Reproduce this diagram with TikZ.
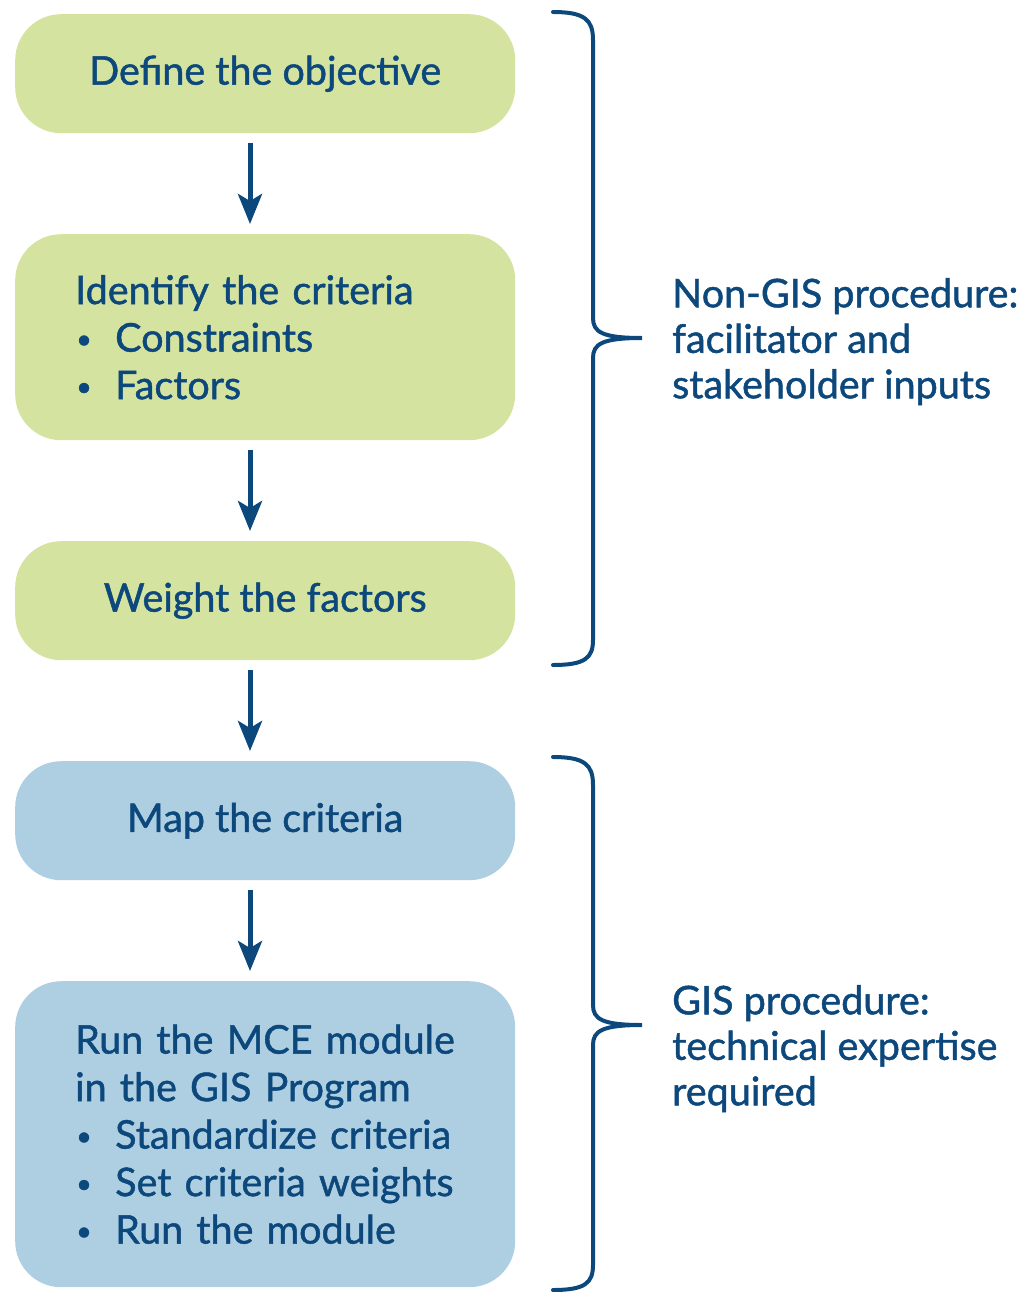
\documentclass[tikz,border=0pt]{standalone}
\usepackage{fontspec}
\setmainfont{Lato}[FakeBold=1.2]
\usetikzlibrary{arrows.meta}
\definecolor{ink}{RGB}{12,72,124}
\definecolor{leaf}{RGB}{212,227,160}
\definecolor{sky}{RGB}{174,207,226}
% small list bullet followed by a fixed indent
\newcommand{\itemdot}{\makebox[40pt][l]{\hspace*{1pt}\raisebox{3pt}{\fontsize{27}{27}\selectfont\textbullet}}}
\begin{document}
\begin{tikzpicture}[x=1pt,y=-1pt,
  every node/.style={font=\fontsize{39.5}{47.5}\selectfont, text=ink},
  stepbox/.style={rounded corners=46pt, minimum width=500pt, inner xsep=0pt, inner ysep=0pt, anchor=north west},
  listbox/.style={stepbox, align=left, text width=400pt, inner xsep=50pt},
  flow/.style={draw=ink, line width=5pt, -{Stealth[length=30pt,width=24pt,inset=7pt]}},
  brace/.style={draw=ink, line width=4pt, line cap=round},
  note/.style={anchor=north west, align=left, inner sep=0pt, font=\fontsize{39.5}{45.5}\selectfont}]
\useasboundingbox (0,0) rectangle (1032,1292);

% process steps
\node[stepbox, fill=leaf, minimum height=119pt] (obj) at (15,14) {Define the objective};
\node[listbox, fill=leaf, minimum height=206pt] (crit) at (15,234)
  {\hspace*{10pt}Identify the criteria\\
   \hspace*{10pt}\itemdot Constraints\\
   \hspace*{10pt}\itemdot Factors};
\node[stepbox, fill=leaf, minimum height=119pt] (wgt) at (15,541) {Weight the factors};
\node[stepbox, fill=sky, minimum height=119pt] (map) at (15,761) {Map the criteria};
\node[listbox, fill=sky, minimum height=306pt] (mce) at (15,981)
  {\hspace*{10pt}Run the MCE module\\
   \hspace*{10pt}in the GIS Program\\
   \hspace*{10pt}\itemdot Standardize criteria\\
   \hspace*{10pt}\itemdot Set criteria weights\\
   \hspace*{10pt}\itemdot Run the module};

% arrows between steps
\coordinate (a1s) at (250,143); \coordinate (a1e) at (250,224);
\coordinate (a2s) at (250,450); \coordinate (a2e) at (250,531);
\coordinate (a3s) at (250,670); \coordinate (a3e) at (250,751);
\coordinate (a4s) at (250,890); \coordinate (a4e) at (250,971);
\draw[flow] (a1s) -- (a1e);
\draw[flow] (a2s) -- (a2e);
\draw[flow] (a3s) -- (a3e);
\draw[flow] (a4s) -- (a4e);

% braces
\draw[brace] (553,12) .. controls (585,12) and (593,20) .. (593,40) -- (593,318)
  .. controls (593,332) and (602,338) .. (642,338)
  .. controls (602,338) and (593,344) .. (593,358) -- (593,640)
  .. controls (593,658) and (585,665) .. (553,665);
\draw[brace] (553,757) .. controls (585,757) and (593,765) .. (593,785) -- (593,1005)
  .. controls (593,1019) and (602,1025) .. (642,1025)
  .. controls (602,1025) and (593,1031) .. (593,1045) -- (593,1265)
  .. controls (593,1283) and (585,1290) .. (553,1290);

% side notes
\node[note] (n1) at (672,278) {Non-GIS procedure:\\facilitator and\\stakeholder inputs};
\node[note] (n2) at (672,985) {GIS procedure:\\technical expertise\\required};
\end{tikzpicture}
\end{document}
